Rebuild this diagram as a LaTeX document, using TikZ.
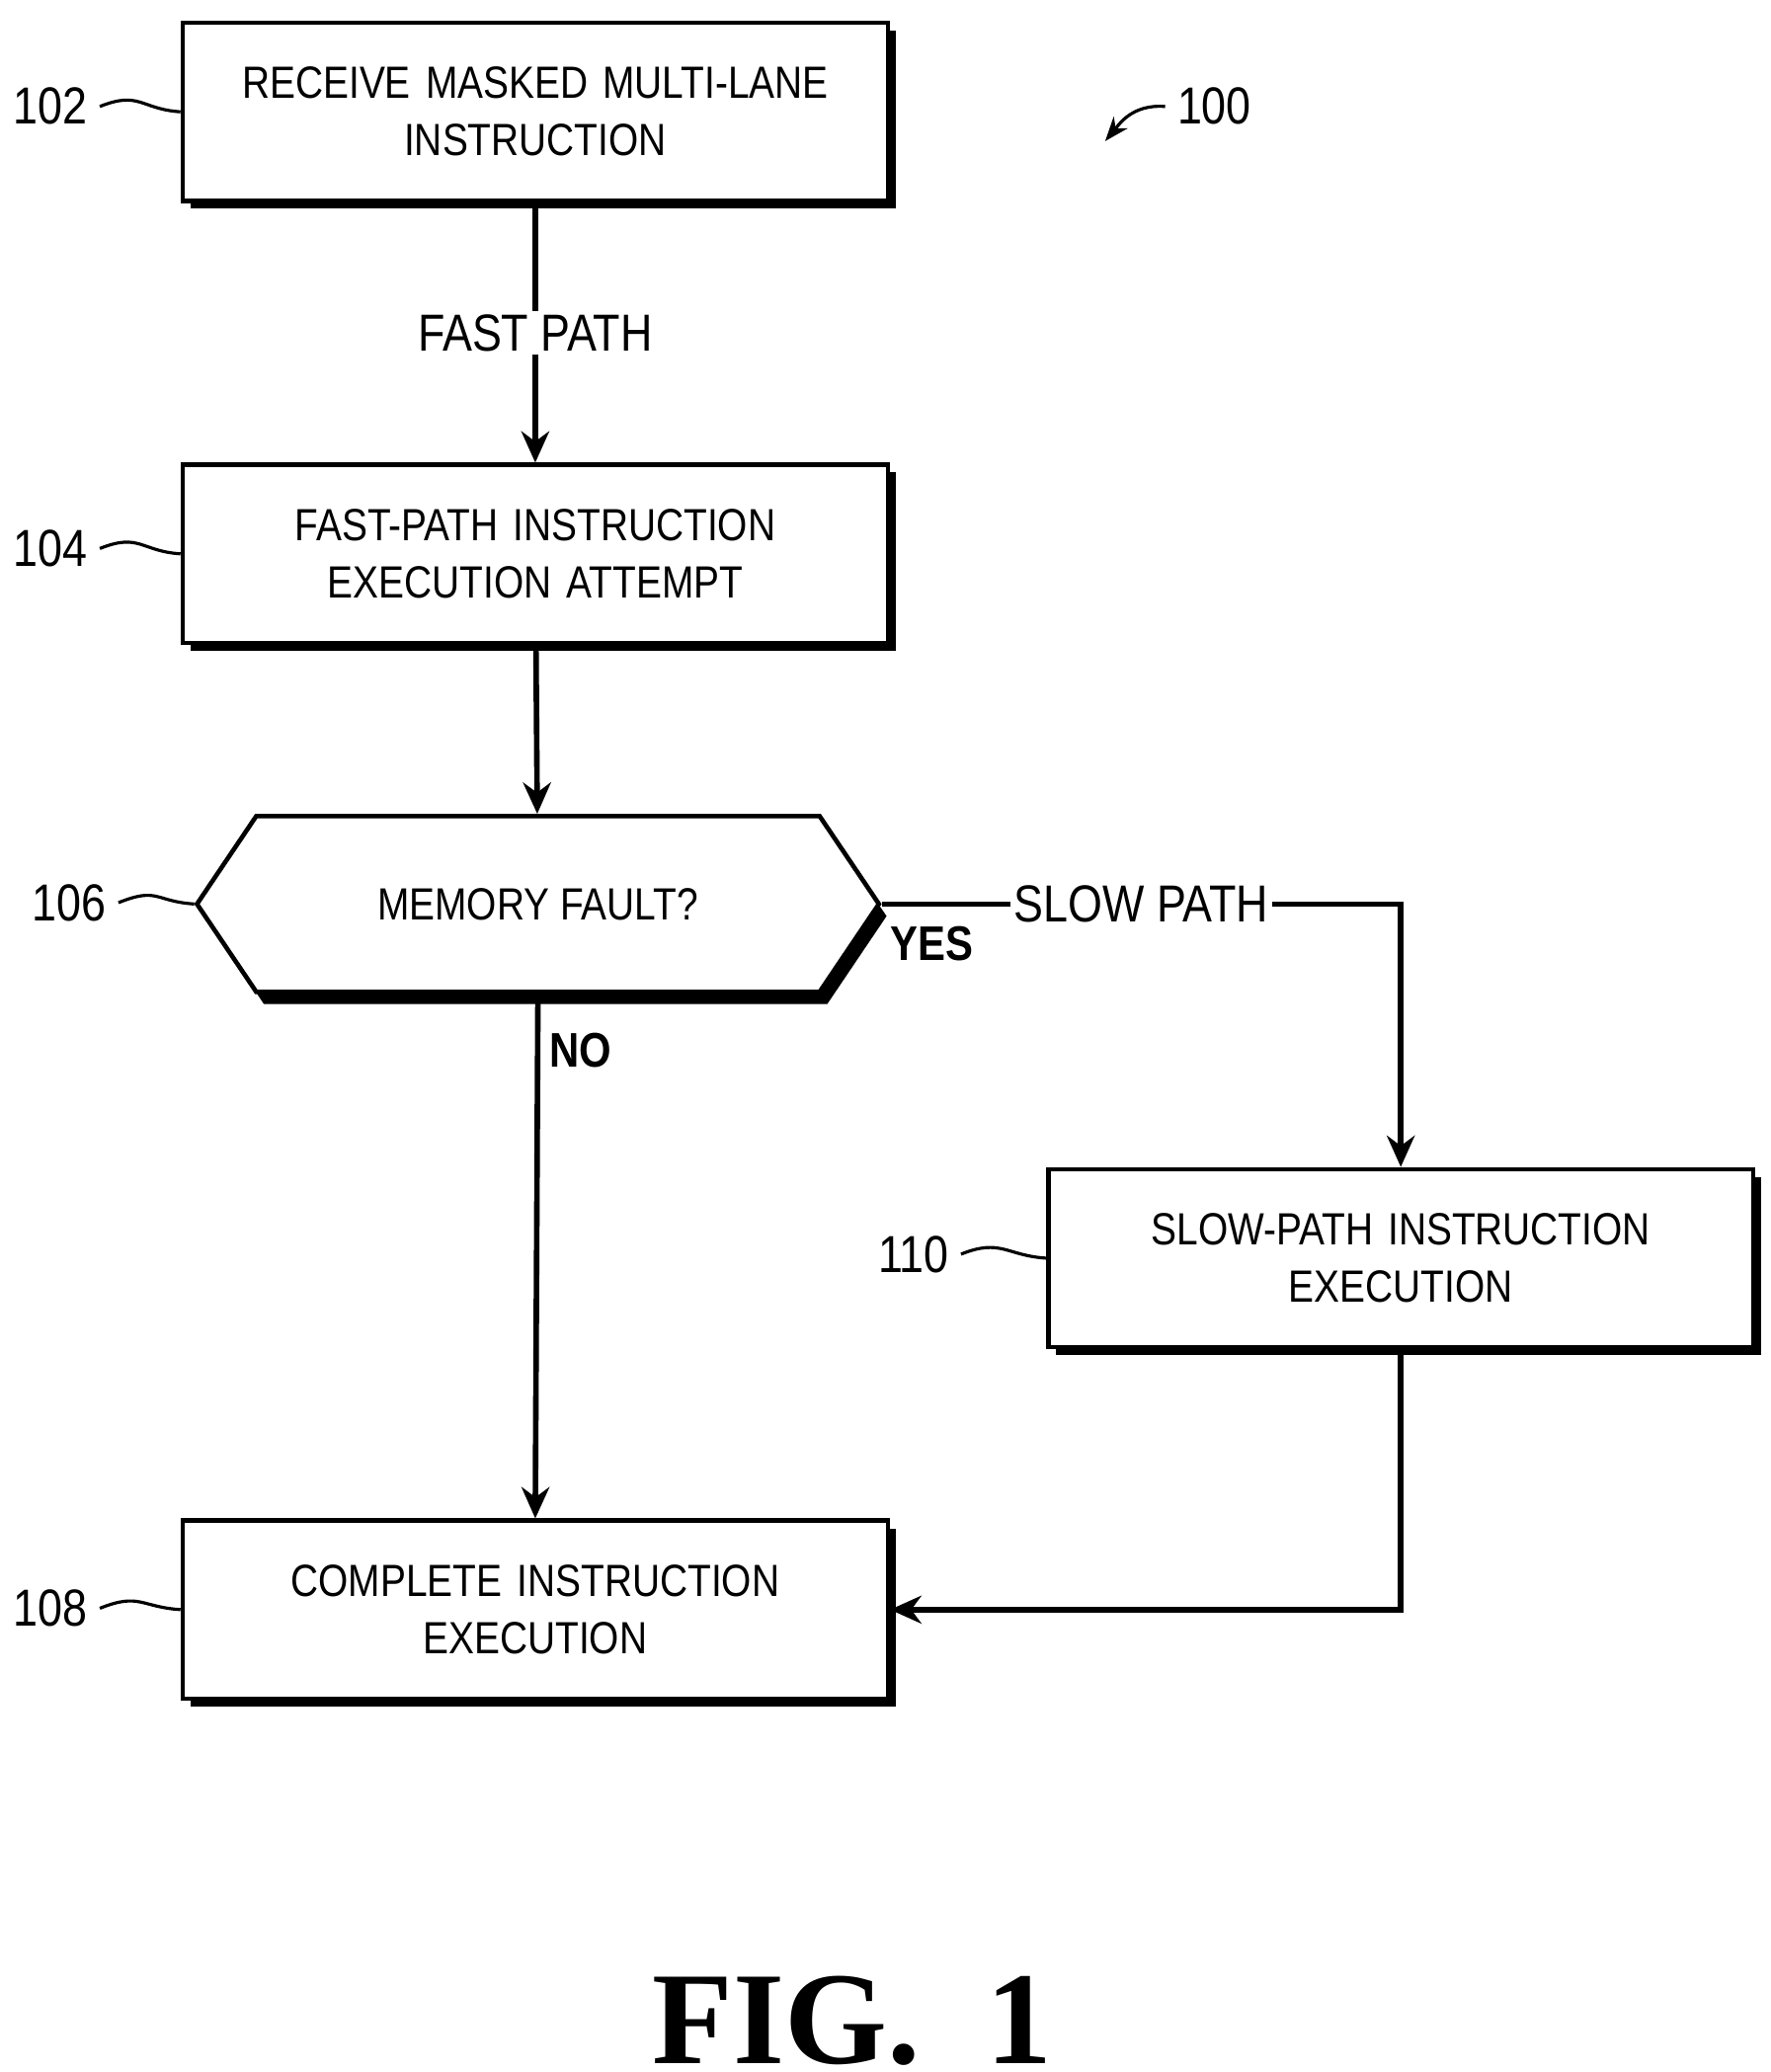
\documentclass[tikz,border=0pt]{standalone}
\usepackage{fontspec}
\setmainfont[FakeStretch=0.85]{Liberation Sans}
\newfontfamily\figfont{Liberation Serif}
\usetikzlibrary{shapes.symbols,shadows,arrows.meta}

\begin{document}
\begin{tikzpicture}[x=0.01348cm, y=-0.01348cm,
  box/.style={rectangle, draw, line width=1.3pt, fill=white, minimum width=7.1cm, minimum height=1.8cm, text width=6.9cm, align=center,
    font=\fontsize{13}{16.5}\selectfont, drop shadow={opacity=1, fill=black, shadow xshift=2.2pt, shadow yshift=-2.2pt}},
  hexa/.style={signal, signal to=west and east, signal pointer angle=112, draw, line width=1.3pt, fill=white,
    minimum width=6.9cm, minimum height=1.78cm, inner sep=0pt, font=\fontsize{13}{16.5}\selectfont,
    drop shadow={opacity=1, fill=black, shadow xshift=2.2pt, shadow yshift=-3.5pt}},
  ref/.style={font=\fontsize{15}{18}\selectfont},
  lbl/.style={font=\fontsize{15}{18}\selectfont, fill=white, inner sep=1pt},
  blbl/.style={font=\bfseries\fontsize{14}{17}\selectfont},
  arrow/.style={-{Stealth[length=9pt, width=8pt]}, line width=1.6pt},
  lead/.style={line width=0.9pt}
]
  \useasboundingbox (0,0) rectangle (1330,1556.3);

  \node[box] (recv) at (402,84) {RECEIVE MASKED MULTI-LANE\\INSTRUCTION};
  \node[box] (fast) at (402,416) {FAST-PATH INSTRUCTION\\EXECUTION ATTEMPT};
  \node[hexa] (fault) at (404,679) {MEMORY FAULT?};
  \node[box] (slow) at (1052,945) {SLOW-PATH INSTRUCTION\\EXECUTION};
  \node[box] (done) at (402,1209) {COMPLETE INSTRUCTION\\EXECUTION};

  % reference numerals
  \node[ref] (r102) at (38,80) {102};
  \node[ref] (r104) at (38,412) {104};
  \node[ref] (r106) at (52,678) {106};
  \node[ref] (r110) at (686,942) {110};
  \node[ref] (r108) at (38,1208) {108};
  \node[ref] (r100) at (912,80) {100};
  \coordinate (p100) at (830,106);

  \draw[lead] (r102.east) .. controls +(30,-12) and +(-30,-2) .. (recv.west);
  \draw[lead] (r104.east) .. controls +(30,-12) and +(-30,-2) .. (fast.west);
  \draw[lead] (r106.east) .. controls +(30,-12) and +(-30,-2) .. (fault.west);
  \draw[lead] (r110.east) .. controls +(30,-12) and +(-30,-2) .. (slow.west);
  \draw[lead] (r108.east) .. controls +(30,-12) and +(-30,-2) .. (done.west);
  \draw[lead, -{Stealth[length=7pt]}] (r100.west) .. controls +(-25,-2) and +(10,-12) .. (p100);

  % connectors
  \draw[arrow] (recv) -- node[lbl] {FAST PATH} (fast);
  \draw[arrow] (fast) -- (fault);
  \draw[arrow] (fault.south) -- (done.north);
  \draw[arrow] (fault.east) -- node[lbl, pos=0.5] {SLOW PATH} (slow.north |- fault.east) -- (slow.north);
  \draw[arrow] (slow.south) |- (done.east);

  \node[blbl] (yes) at (700,709) {YES};
  \node[blbl] (no) at (436,789) {NO};

  \node[font=\figfont\bfseries\fontsize{38}{42}\selectfont, inner sep=0pt] (fig) at (640,1518) {FIG.\hspace{0.5em}1};
\end{tikzpicture}
\end{document}
